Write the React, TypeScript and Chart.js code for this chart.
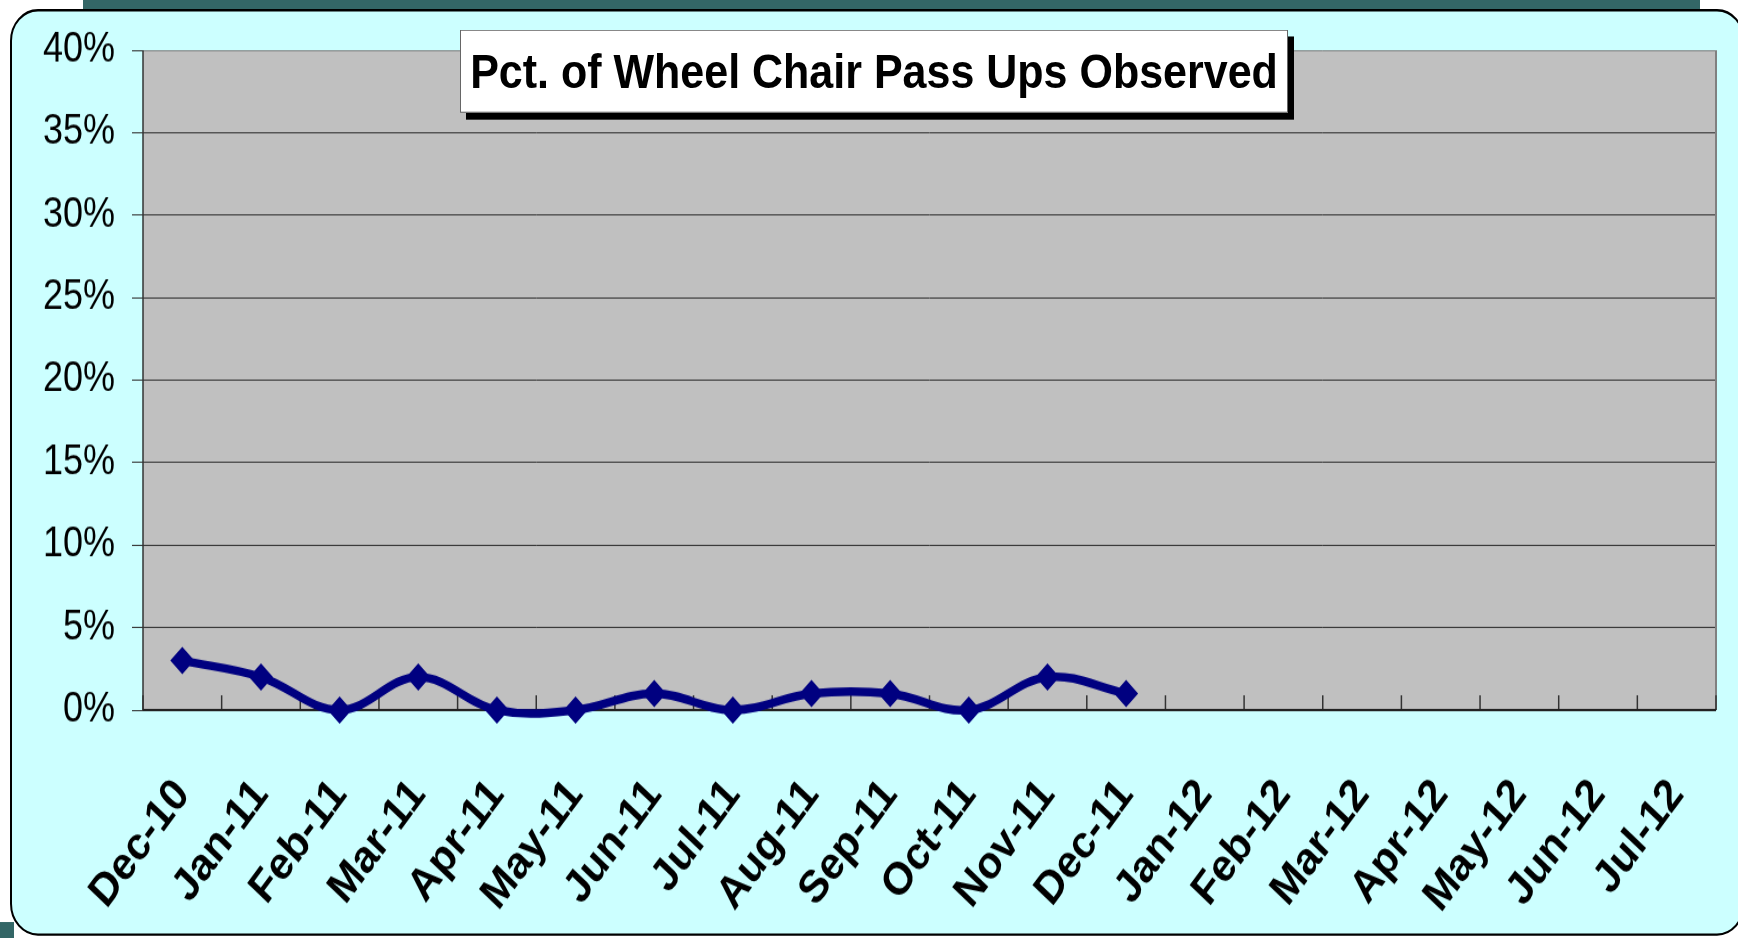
import React, { useEffect, useRef } from "react";
import { Chart, registerables } from "chart.js";

Chart.register(...registerables);

const categories = [
  "Dec-10", "Jan-11", "Feb-11", "Mar-11", "Apr-11", "May-11", "Jun-11",
  "Jul-11", "Aug-11", "Sep-11", "Oct-11", "Nov-11", "Dec-11", "Jan-12",
  "Feb-12", "Mar-12", "Apr-12", "May-12", "Jun-12", "Jul-12",
];
const passUpPct: (number | null)[] = [
  0.03, 0.02, 0.0, 0.02, 0.0, 0.0, 0.01, 0.0, 0.01, 0.01, 0.0, 0.02, 0.01,
  null, null, null, null, null, null, null,
];
const yMin = 0;
const yMax = 0.4;
const yStep = 0.05;
const titleText = "Pct. of Wheel Chair Pass Ups Observed";

const W = 1738;
const H = 938;
const H0 = 823; // unstretched height
const S = H / H0;

const plotDecor = {
  id: "plotDecor",
  beforeDraw(chart: any) {
    const { ctx, chartArea: a } = chart;
    ctx.save();
    ctx.fillStyle = "#C0C0C0";
    ctx.fillRect(a.left, a.top, a.right - a.left, a.bottom - a.top);
    ctx.restore();
  },
  beforeDatasetsDraw(chart: any) {
    const { ctx, chartArea: a } = chart;
    const xs = chart.scales.x;
    ctx.save();
    ctx.strokeStyle = "#808080";
    ctx.lineWidth = 2;
    ctx.beginPath();
    ctx.moveTo(a.right, a.top);
    ctx.lineTo(a.right, a.bottom);
    ctx.stroke();
    ctx.strokeStyle = "#333";
    ctx.lineWidth = 1.5;
    ctx.beginPath();
    ctx.moveTo(a.left, a.top);
    ctx.lineTo(a.left, a.bottom);
    ctx.stroke();
    ctx.strokeStyle = "#333";
    ctx.lineWidth = 1.5;
    for (let i = 0; i <= categories.length; i++) {
      const x = xs.getPixelForValue(i - 0.5);
      ctx.beginPath();
      ctx.moveTo(x, a.bottom);
      ctx.lineTo(x, a.bottom - 13);
      ctx.stroke();
    }
    ctx.strokeStyle = "#222";
    ctx.lineWidth = 2;
    ctx.beginPath();
    ctx.moveTo(a.left, a.bottom);
    ctx.lineTo(a.right, a.bottom);
    ctx.stroke();
    ctx.restore();
  },
};

export default function App() {
  const ref = useRef<HTMLCanvasElement>(null);
  useEffect(() => {
    if (!ref.current) return;
    const chart = new Chart(ref.current, {
      type: "line",
      data: {
        labels: categories,
        datasets: [
          {
            data: passUpPct,
            borderColor: "#000080",
            backgroundColor: "#000080",
            borderWidth: 7.5,
            tension: 0.38,
            pointStyle: "rectRot",
            pointRadius: 12,
            pointBorderWidth: 0,
            clip: false as any,
            spanGaps: false,
          },
        ],
      },
      options: {
        responsive: false,
        maintainAspectRatio: false,
        animation: false,
        devicePixelRatio: 1,
        layout: { padding: { top: 44, right: 22, left: 0, bottom: 0 } },
        elements: { line: { capBezierPoints: false } },
        plugins: {
          legend: { display: false },
          tooltip: { enabled: false },
          title: { display: false },
        },
        scales: {
          x: {
            offset: true,
            grid: { display: false },
            border: { display: false },
            ticks: {
              autoSkip: false,
              maxRotation: 50,
              minRotation: 50,
              color: "#000",
              padding: 44,
              font: { family: "'Liberation Sans', Arial, sans-serif", size: 40, weight: "bold" },
            },
            afterFit: (s: any) => {
              s.height = 200;
              s.paddingLeft = 0;
              s.paddingRight = 0;
            },
          },
          y: {
            min: yMin,
            max: yMax,
            ticks: {
              stepSize: yStep,
              color: "#000",
              padding: 17,
              font: { family: "'Liberation Sans', Arial, sans-serif", size: 36 },
              callback: (v: any) => Math.round(Number(v) * 100) + "%",
            },
            grid: {
              color: (c: any) => (c.tick && Math.abs(c.tick.value - yMax) < 1e-9 ? "#808080" : "#333"),
              lineWidth: 1,
              tickLength: 11,
              tickColor: "#333",
              drawTicks: true,
            },
            border: { display: false },
            afterFit: (s: any) => {
              s.width = 143;
            },
          },
        },
      } as any,
      plugins: [plotDecor],
    });
    return () => chart.destroy();
  }, []);

  return (
    <div style={{ position: "fixed", left: 0, top: 0, width: W, height: H, overflow: "hidden", background: "#fff" }}>
      <div
        style={{
          position: "absolute",
          left: 0,
          top: 0,
          width: W,
          height: H0,
          transform: `scaleY(${S})`,
          transformOrigin: "0 0",
        }}
      >
        <div style={{ position: "absolute", left: 83, top: 0, width: 1617, height: 9, background: "#336666" }} />
        <div style={{ position: "absolute", left: 0, top: H0 - 14, width: 14, height: 14, background: "#336666" }} />
        <div
          style={{
            position: "absolute",
            left: 10,
            top: 8,
            width: 1735,
            height: H0 - 10,
            background: "#CCFFFF",
            border: "2px solid #000",
            borderRadius: 28,
            boxSizing: "border-box",
          }}
        />
        <canvas
          ref={ref}
          width={W}
          height={H0}
          style={{ position: "absolute", left: 0, top: 0, width: W, height: H0 }}
        />
        <div
          style={{
            position: "absolute",
            left: 460,
            top: 26,
            width: 828,
            height: 73,
            background: "#fff",
            border: "1px solid #666",
            boxShadow: "6px 6px 0 #000",
            boxSizing: "border-box",
            display: "flex",
            alignItems: "center",
            justifyContent: "center",
            fontFamily: "'Liberation Sans', Arial, sans-serif",
            fontWeight: "bold",
            fontSize: 43,
            color: "#000",
            whiteSpace: "nowrap",
          }}
        >
          {titleText}
        </div>
      </div>
    </div>
  );
}
